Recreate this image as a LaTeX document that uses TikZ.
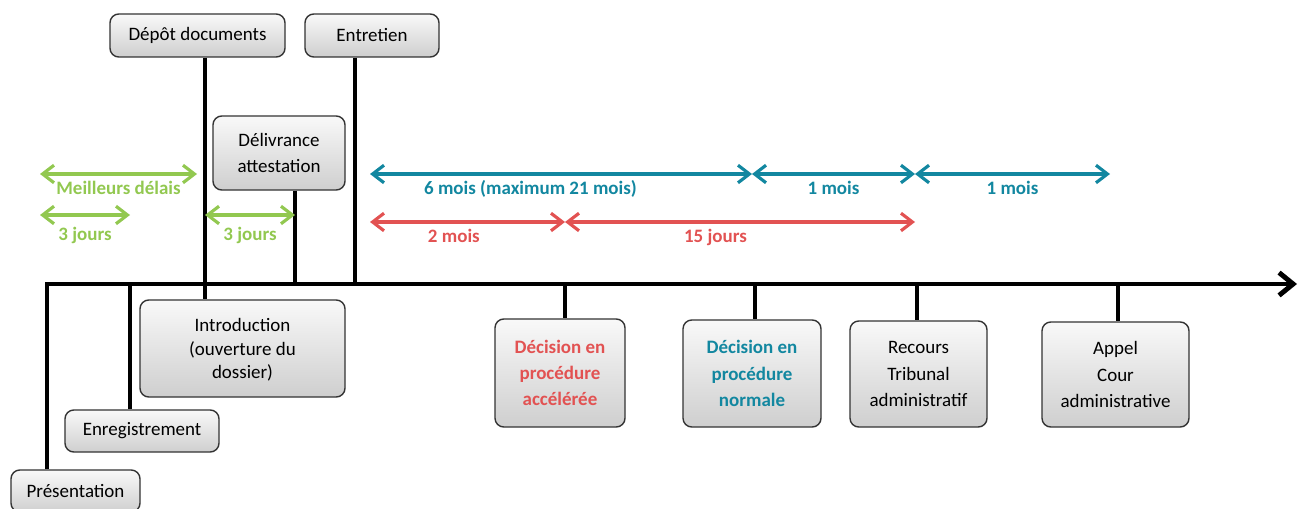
\documentclass[tikz,border=0pt]{standalone}
\usepackage{fontspec}
\setmainfont{Carlito}
\usetikzlibrary{arrows.meta}
\definecolor{leaf}{RGB}{146,200,80}
\definecolor{aqua}{RGB}{18,135,160}
\definecolor{brick}{RGB}{226,82,82}
\tikzset{
  stage/.style={draw=black!80, line width=0.8pt, rounded corners=5pt, top color=gray!5, bottom color=gray!38, align=center, inner sep=0pt, font=\fontsize{10.8}{15}\selectfont},
  stem/.style={line width=2.2pt},
  span/.style={{Straight Barb[length=6.5pt,width=10pt]}-{Straight Barb[length=6.5pt,width=10pt]}, line width=1.8pt},
  lbl/.style={font=\bfseries\fontsize{10.8}{12}\selectfont, below, inner sep=3pt}
}
\begin{document}
\begin{tikzpicture}[x=0.2mm, y=-0.2mm]
	\useasboundingbox (0,0) rectangle (1301,509);
	% boxes above and below the line
	\node[stage, minimum width=35mm, minimum height=8.6mm] (DEP) at (197.5,35.5) {Dépôt documents};
	\node[stage, minimum width=26.8mm, minimum height=8.6mm] (ENT) at (372,35.5) {Entretien};
	\node[stage, minimum width=26.4mm, minimum height=14.8mm] (DEL) at (279,153) {Délivrance\\attestation};
	\node[stage, minimum width=41mm, minimum height=19.4mm, font=\fontsize{10.8}{13.6}\selectfont] (INT) at (242.5,348.5) {\rule{0pt}{9pt}Introduction\\(ouverture du\\dossier)};
	\node[stage, minimum width=30.8mm, minimum height=8.4mm] (ENR) at (142,431) {Enregistrement};
	\node[stage, minimum width=25.8mm, minimum height=8.4mm] (PRE) at (75.5,491) {Présentation};
	\node[stage, minimum width=26mm, minimum height=21.6mm, text=brick, font=\bfseries\fontsize{10.8}{15}\selectfont] (ACC) at (560,373) {Décision en\\procédure\\accélérée};
	\node[stage, minimum width=27.6mm, minimum height=21.4mm, text=aqua, font=\bfseries\fontsize{10.8}{15}\selectfont] (NOR) at (752,373.5) {Décision en\\procédure\\normale};
	\node[stage, minimum width=27.4mm, minimum height=21.2mm] (TRI) at (918.5,374) {Recours\\Tribunal\\administratif};
	\node[stage, minimum width=29.4mm, minimum height=21mm] (COU) at (1115.5,374.5) {Appel\\Cour\\administrative};
	% points on the line
	\coordinate (T0) at (47,284);
	\coordinate (T1) at (130,284);
	\coordinate (T2) at (205,284);
	\coordinate (T3) at (295,284);
	\coordinate (T4) at (355,284);
	\coordinate (T5) at (565,284);
	\coordinate (T6) at (755,284);
	\coordinate (T7) at (917,284);
	\coordinate (T8) at (1118,284);
	\coordinate (TE) at (1297,284);
	% time line
	\draw[line width=2.8pt, -{Straight Barb[length=8pt,width=13pt]}] (PRE.north -| T0) -- (T0) -- (TE);
	\draw[stem] (DEP.south -| T2) -- (INT.north -| T2);
	\draw[stem] (ENT.south -| T4) -- (T4);
	\draw[stem] (DEL.south -| T3) -- (T3);
	\draw[stem] (T1) -- (ENR.north -| T1);
	\draw[stem] (T5) -- (ACC.north -| T5);
	\draw[stem] (T6) -- (NOR.north -| T6);
	\draw[stem] (T7) -- (TRI.north -| T7);
	\draw[stem] (T8) -- (COU.north -| T8);
	% durations
	\coordinate (G0) at (40,174);
	\coordinate (G1) at (197,174);
	\coordinate (G2) at (40,215);
	\coordinate (G3) at (130,215);
	\coordinate (G4) at (205,215);
	\coordinate (G5) at (295,215);
	\coordinate (A0) at (370,174);
	\coordinate (A1) at (752,174);
	\coordinate (A2) at (915,174);
	\coordinate (A3) at (1110,174);
	\coordinate (R0) at (370,222);
	\coordinate (R1) at (565,222);
	\coordinate (R2) at (915,222);
	\draw[span, leaf] (G0) -- (G1) node[lbl, midway] {Meilleurs délais};
	\draw[span, leaf] (G2) -- (G3) node[lbl, midway, yshift=-1mm] {3 jours};
	\draw[span, leaf] (G4) -- (G5) node[lbl, midway, yshift=-1mm] {3 jours};
	\draw[span, aqua] (A0) -- (A1) node[lbl, pos=0.42] {6 mois (maximum 21 mois)};
	\draw[span, aqua] (A1) -- (A2) node[lbl, midway] {1 mois};
	\draw[span, aqua] (A2) -- (A3) node[lbl, midway] {1 mois};
	\draw[span, brick] (R0) -- (R1) node[lbl, pos=0.43] {2 mois};
	\draw[span, brick] (R1) -- (R2) node[lbl, pos=0.43] {15 jours};
\end{tikzpicture}
\end{document}
